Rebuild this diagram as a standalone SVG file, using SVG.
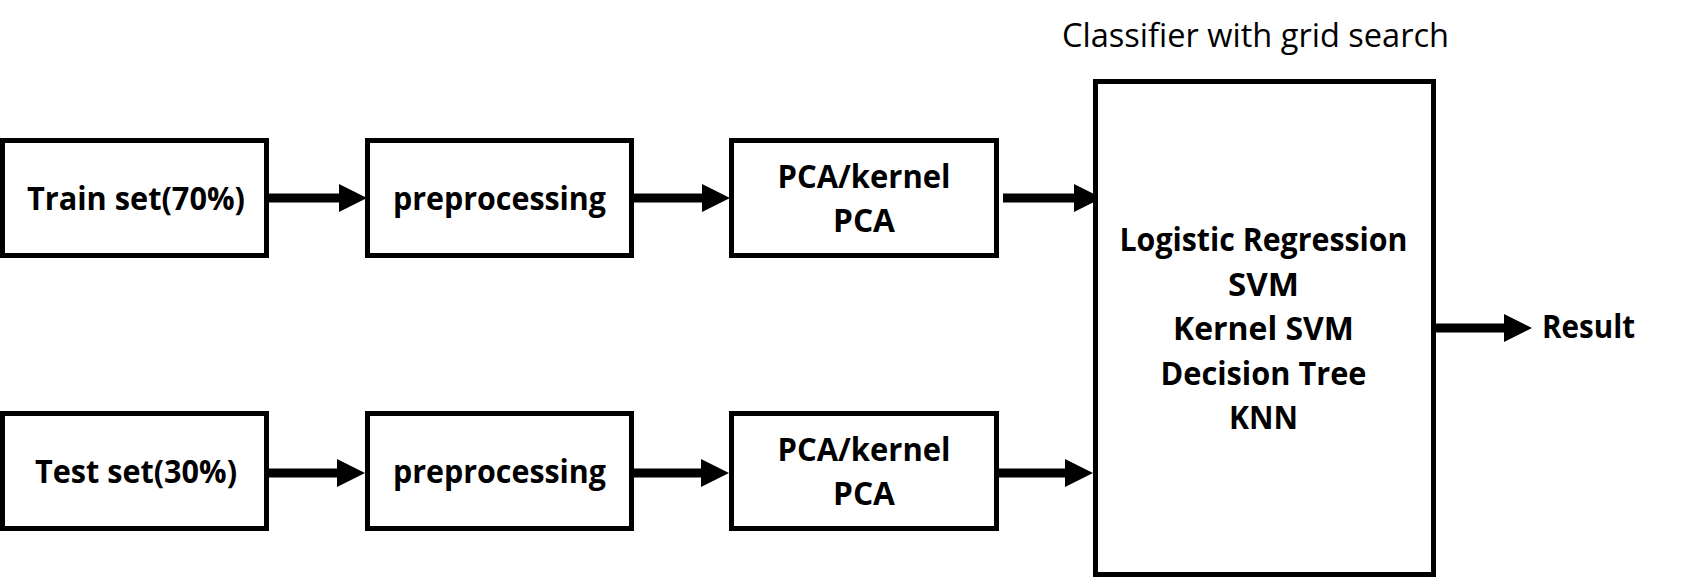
<svg xmlns="http://www.w3.org/2000/svg" width="1689" height="577" viewBox="0 0 1689 577">
<style>
.box{fill:#fff;stroke:#000;stroke-width:5}
.lbl{font-family:"Open Sans","Noto Sans","Liberation Sans",sans-serif;font-weight:bold;font-size:33px;fill:#000;text-anchor:middle}
.ttl{font-family:"Open Sans","Noto Sans","Liberation Sans",sans-serif;font-size:32px;fill:#000}
.conn{stroke:#000;stroke-width:9;fill:none;marker-end:url(#ah)}
</style>
<defs>
<marker id="ah" markerUnits="userSpaceOnUse" markerWidth="28" markerHeight="28" refX="0" refY="14" orient="auto" overflow="visible">
<path d="M-1,0 L27,14 L-1,28 Z" fill="#000"/>
</marker>
</defs>
<rect width="1689" height="577" fill="#fff"/>
<g id="connectors">
<path class="conn" d="M269,198 H340"/>
<path class="conn" d="M634,198 H703"/>
<path class="conn" d="M1003,198 H1075"/>
<path class="conn" d="M269,473 H338"/>
<path class="conn" d="M634,473 H702"/>
<path class="conn" d="M999,473 H1066"/>
<path class="conn" d="M1436,328 H1505"/>
</g>
<g id="train">
<rect class="box" x="2.5" y="140.5" width="264" height="115"/>
<text class="lbl" x="136" y="210" textLength="218" lengthAdjust="spacingAndGlyphs">Train set(70%)</text>
</g>
<g id="prep1">
<rect class="box" x="367.5" y="140.5" width="264" height="115"/>
<text class="lbl" x="499.5" y="210" textLength="213" lengthAdjust="spacingAndGlyphs">preprocessing</text>
</g>
<g id="pca1">
<rect class="box" x="731.5" y="140.5" width="265" height="115"/>
<text class="lbl" x="864" y="188" textLength="173" lengthAdjust="spacingAndGlyphs">PCA/kernel</text>
<text class="lbl" x="864" y="232" textLength="62" lengthAdjust="spacingAndGlyphs">PCA</text>
</g>
<g id="test">
<rect class="box" x="2.5" y="413.5" width="264" height="115"/>
<text class="lbl" x="136" y="483" textLength="202" lengthAdjust="spacingAndGlyphs">Test set(30%)</text>
</g>
<g id="prep2">
<rect class="box" x="367.5" y="413.5" width="264" height="115"/>
<text class="lbl" x="499.5" y="483" textLength="213" lengthAdjust="spacingAndGlyphs">preprocessing</text>
</g>
<g id="pca2">
<rect class="box" x="731.5" y="413.5" width="265" height="115"/>
<text class="lbl" x="864" y="461" textLength="173" lengthAdjust="spacingAndGlyphs">PCA/kernel</text>
<text class="lbl" x="864" y="505" textLength="62" lengthAdjust="spacingAndGlyphs">PCA</text>
</g>
<g id="classifier">
<text class="ttl" x="1062" y="47" textLength="387" lengthAdjust="spacingAndGlyphs">Classifier with grid search</text>
<rect class="box" x="1095.5" y="81.5" width="338" height="493"/>
<text class="lbl" x="1263.5" y="251" textLength="288" lengthAdjust="spacingAndGlyphs">Logistic Regression</text>
<text class="lbl" x="1263.5" y="295.5" textLength="71" lengthAdjust="spacingAndGlyphs">SVM</text>
<text class="lbl" x="1263.5" y="340" textLength="181" lengthAdjust="spacingAndGlyphs">Kernel SVM</text>
<text class="lbl" x="1263.5" y="384.5" textLength="206" lengthAdjust="spacingAndGlyphs">Decision Tree</text>
<text class="lbl" x="1263.5" y="429" textLength="69" lengthAdjust="spacingAndGlyphs">KNN</text>
</g>
<g id="result">
<text class="lbl" x="1588.5" y="338" textLength="93" lengthAdjust="spacingAndGlyphs">Result</text>
</g>
</svg>
